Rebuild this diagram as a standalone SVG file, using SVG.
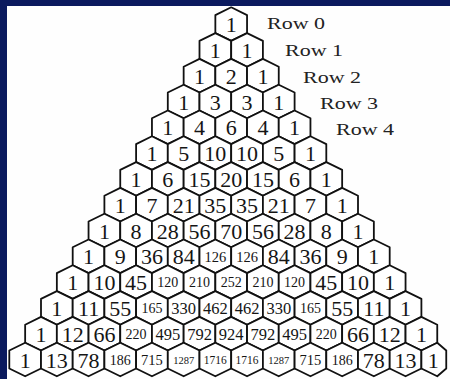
<svg xmlns="http://www.w3.org/2000/svg" width="450" height="379" viewBox="0 0 450 379">
<style>
.hx{fill:#fff;stroke:#111;stroke-width:1.8;stroke-linejoin:round}
text{font-family:"Liberation Serif","Times New Roman",serif;fill:#151515;text-anchor:middle}
.a{font-size:22px}.b{font-size:16.5px}.c{font-size:14px}.d{font-size:14.5px}.e{font-size:10.5px}.f{font-size:11.5px}
.lbl{font-family:"Liberation Serif",serif;font-size:16.5px;text-anchor:start;fill:#222}
</style>
<defs><polygon id="h" class="hx" points="0,-16.8 15.85,-9 15.85,9 0,16.8 -15.85,9 -15.85,-9"/></defs>
<rect width="450" height="379" fill="#0b1a5e"/>
<rect x="7" y="6" width="443" height="373" fill="#fefefe"/>
<g id="labels">
<text class="lbl" x="267" y="28.5" textLength="58" lengthAdjust="spacingAndGlyphs">Row 0</text>
<text class="lbl" x="285" y="56" textLength="58" lengthAdjust="spacingAndGlyphs">Row 1</text>
<text class="lbl" x="303" y="82.5" textLength="58" lengthAdjust="spacingAndGlyphs">Row 2</text>
<text class="lbl" x="320" y="108.5" textLength="58" lengthAdjust="spacingAndGlyphs">Row 3</text>
<text class="lbl" x="336" y="135" textLength="58" lengthAdjust="spacingAndGlyphs">Row 4</text>
</g>
<g id="connectors"/>
<g id="r0">
<g id="r0c0" transform="translate(231.2,24.1)"><use href="#h"/><text class="a" y="8">1</text></g>
</g>
<g id="r1">
<g id="r1c0" transform="translate(215.35,49.9)"><use href="#h"/><text class="a" y="8">1</text></g>
<g id="r1c1" transform="translate(247.05,49.9)"><use href="#h"/><text class="a" y="8">1</text></g>
</g>
<g id="r2">
<g id="r2c0" transform="translate(199.5,75.7)"><use href="#h"/><text class="a" y="8">1</text></g>
<g id="r2c1" transform="translate(231.2,75.7)"><use href="#h"/><text class="a" y="8">2</text></g>
<g id="r2c2" transform="translate(262.9,75.7)"><use href="#h"/><text class="a" y="8">1</text></g>
</g>
<g id="r3">
<g id="r3c0" transform="translate(183.65,101.5)"><use href="#h"/><text class="a" y="8">1</text></g>
<g id="r3c1" transform="translate(215.35,101.5)"><use href="#h"/><text class="a" y="8">3</text></g>
<g id="r3c2" transform="translate(247.05,101.5)"><use href="#h"/><text class="a" y="8">3</text></g>
<g id="r3c3" transform="translate(278.75,101.5)"><use href="#h"/><text class="a" y="8">1</text></g>
</g>
<g id="r4">
<g id="r4c0" transform="translate(167.8,127.3)"><use href="#h"/><text class="a" y="8">1</text></g>
<g id="r4c1" transform="translate(199.5,127.3)"><use href="#h"/><text class="a" y="8">4</text></g>
<g id="r4c2" transform="translate(231.2,127.3)"><use href="#h"/><text class="a" y="8">6</text></g>
<g id="r4c3" transform="translate(262.9,127.3)"><use href="#h"/><text class="a" y="8">4</text></g>
<g id="r4c4" transform="translate(294.6,127.3)"><use href="#h"/><text class="a" y="8">1</text></g>
</g>
<g id="r5">
<g id="r5c0" transform="translate(151.95,153.1)"><use href="#h"/><text class="a" y="8">1</text></g>
<g id="r5c1" transform="translate(183.65,153.1)"><use href="#h"/><text class="a" y="8">5</text></g>
<g id="r5c2" transform="translate(215.35,153.1)"><use href="#h"/><text class="a" y="8">10</text></g>
<g id="r5c3" transform="translate(247.05,153.1)"><use href="#h"/><text class="a" y="8">10</text></g>
<g id="r5c4" transform="translate(278.75,153.1)"><use href="#h"/><text class="a" y="8">5</text></g>
<g id="r5c5" transform="translate(310.45,153.1)"><use href="#h"/><text class="a" y="8">1</text></g>
</g>
<g id="r6">
<g id="r6c0" transform="translate(136.1,178.9)"><use href="#h"/><text class="a" y="8">1</text></g>
<g id="r6c1" transform="translate(167.8,178.9)"><use href="#h"/><text class="a" y="8">6</text></g>
<g id="r6c2" transform="translate(199.5,178.9)"><use href="#h"/><text class="a" y="8">15</text></g>
<g id="r6c3" transform="translate(231.2,178.9)"><use href="#h"/><text class="a" y="8">20</text></g>
<g id="r6c4" transform="translate(262.9,178.9)"><use href="#h"/><text class="a" y="8">15</text></g>
<g id="r6c5" transform="translate(294.6,178.9)"><use href="#h"/><text class="a" y="8">6</text></g>
<g id="r6c6" transform="translate(326.3,178.9)"><use href="#h"/><text class="a" y="8">1</text></g>
</g>
<g id="r7">
<g id="r7c0" transform="translate(120.25,204.7)"><use href="#h"/><text class="a" y="8">1</text></g>
<g id="r7c1" transform="translate(151.95,204.7)"><use href="#h"/><text class="a" y="8">7</text></g>
<g id="r7c2" transform="translate(183.65,204.7)"><use href="#h"/><text class="a" y="8">21</text></g>
<g id="r7c3" transform="translate(215.35,204.7)"><use href="#h"/><text class="a" y="8">35</text></g>
<g id="r7c4" transform="translate(247.05,204.7)"><use href="#h"/><text class="a" y="8">35</text></g>
<g id="r7c5" transform="translate(278.75,204.7)"><use href="#h"/><text class="a" y="8">21</text></g>
<g id="r7c6" transform="translate(310.45,204.7)"><use href="#h"/><text class="a" y="8">7</text></g>
<g id="r7c7" transform="translate(342.15,204.7)"><use href="#h"/><text class="a" y="8">1</text></g>
</g>
<g id="r8">
<g id="r8c0" transform="translate(104.4,230.5)"><use href="#h"/><text class="a" y="8">1</text></g>
<g id="r8c1" transform="translate(136.1,230.5)"><use href="#h"/><text class="a" y="8">8</text></g>
<g id="r8c2" transform="translate(167.8,230.5)"><use href="#h"/><text class="a" y="8">28</text></g>
<g id="r8c3" transform="translate(199.5,230.5)"><use href="#h"/><text class="a" y="8">56</text></g>
<g id="r8c4" transform="translate(231.2,230.5)"><use href="#h"/><text class="a" y="8">70</text></g>
<g id="r8c5" transform="translate(262.9,230.5)"><use href="#h"/><text class="a" y="8">56</text></g>
<g id="r8c6" transform="translate(294.6,230.5)"><use href="#h"/><text class="a" y="8">28</text></g>
<g id="r8c7" transform="translate(326.3,230.5)"><use href="#h"/><text class="a" y="8">8</text></g>
<g id="r8c8" transform="translate(358,230.5)"><use href="#h"/><text class="a" y="8">1</text></g>
</g>
<g id="r9">
<g id="r9c0" transform="translate(88.55,256.3)"><use href="#h"/><text class="a" y="8">1</text></g>
<g id="r9c1" transform="translate(120.25,256.3)"><use href="#h"/><text class="a" y="8">9</text></g>
<g id="r9c2" transform="translate(151.95,256.3)"><use href="#h"/><text class="a" y="8">36</text></g>
<g id="r9c3" transform="translate(183.65,256.3)"><use href="#h"/><text class="a" y="8">84</text></g>
<g id="r9c4" transform="translate(215.35,256.3)"><use href="#h"/><text class="d" y="5.5">126</text></g>
<g id="r9c5" transform="translate(247.05,256.3)"><use href="#h"/><text class="d" y="5.5">126</text></g>
<g id="r9c6" transform="translate(278.75,256.3)"><use href="#h"/><text class="a" y="8">84</text></g>
<g id="r9c7" transform="translate(310.45,256.3)"><use href="#h"/><text class="a" y="8">36</text></g>
<g id="r9c8" transform="translate(342.15,256.3)"><use href="#h"/><text class="a" y="8">9</text></g>
<g id="r9c9" transform="translate(373.85,256.3)"><use href="#h"/><text class="a" y="8">1</text></g>
</g>
<g id="r10">
<g id="r10c0" transform="translate(72.7,282.1)"><use href="#h"/><text class="a" y="8">1</text></g>
<g id="r10c1" transform="translate(104.4,282.1)"><use href="#h"/><text class="a" y="8">10</text></g>
<g id="r10c2" transform="translate(136.1,282.1)"><use href="#h"/><text class="a" y="8">45</text></g>
<g id="r10c3" transform="translate(167.8,282.1)"><use href="#h"/><text class="c" y="5">120</text></g>
<g id="r10c4" transform="translate(199.5,282.1)"><use href="#h"/><text class="c" y="5">210</text></g>
<g id="r10c5" transform="translate(231.2,282.1)"><use href="#h"/><text class="c" y="5">252</text></g>
<g id="r10c6" transform="translate(262.9,282.1)"><use href="#h"/><text class="c" y="5">210</text></g>
<g id="r10c7" transform="translate(294.6,282.1)"><use href="#h"/><text class="c" y="5">120</text></g>
<g id="r10c8" transform="translate(326.3,282.1)"><use href="#h"/><text class="a" y="8">45</text></g>
<g id="r10c9" transform="translate(358,282.1)"><use href="#h"/><text class="a" y="8">10</text></g>
<g id="r10c10" transform="translate(389.7,282.1)"><use href="#h"/><text class="a" y="8">1</text></g>
</g>
<g id="r11">
<g id="r11c0" transform="translate(56.85,307.9)"><use href="#h"/><text class="a" y="8">1</text></g>
<g id="r11c1" transform="translate(88.55,307.9)"><use href="#h"/><text class="a" y="8">11</text></g>
<g id="r11c2" transform="translate(120.25,307.9)"><use href="#h"/><text class="a" y="8">55</text></g>
<g id="r11c3" transform="translate(151.95,307.9)"><use href="#h"/><text class="c" y="5">165</text></g>
<g id="r11c4" transform="translate(183.65,307.9)"><use href="#h"/><text class="b" y="6">330</text></g>
<g id="r11c5" transform="translate(215.35,307.9)"><use href="#h"/><text class="b" y="6">462</text></g>
<g id="r11c6" transform="translate(247.05,307.9)"><use href="#h"/><text class="b" y="6">462</text></g>
<g id="r11c7" transform="translate(278.75,307.9)"><use href="#h"/><text class="b" y="6">330</text></g>
<g id="r11c8" transform="translate(310.45,307.9)"><use href="#h"/><text class="c" y="5">165</text></g>
<g id="r11c9" transform="translate(342.15,307.9)"><use href="#h"/><text class="a" y="8">55</text></g>
<g id="r11c10" transform="translate(373.85,307.9)"><use href="#h"/><text class="a" y="8">11</text></g>
<g id="r11c11" transform="translate(405.55,307.9)"><use href="#h"/><text class="a" y="8">1</text></g>
</g>
<g id="r12">
<g id="r12c0" transform="translate(41,333.7)"><use href="#h"/><text class="a" y="8">1</text></g>
<g id="r12c1" transform="translate(72.7,333.7)"><use href="#h"/><text class="a" y="8">12</text></g>
<g id="r12c2" transform="translate(104.4,333.7)"><use href="#h"/><text class="a" y="8">66</text></g>
<g id="r12c3" transform="translate(136.1,333.7)"><use href="#h"/><text class="c" y="5">220</text></g>
<g id="r12c4" transform="translate(167.8,333.7)"><use href="#h"/><text class="b" y="6">495</text></g>
<g id="r12c5" transform="translate(199.5,333.7)"><use href="#h"/><text class="b" y="6">792</text></g>
<g id="r12c6" transform="translate(231.2,333.7)"><use href="#h"/><text class="b" y="6">924</text></g>
<g id="r12c7" transform="translate(262.9,333.7)"><use href="#h"/><text class="b" y="6">792</text></g>
<g id="r12c8" transform="translate(294.6,333.7)"><use href="#h"/><text class="b" y="6">495</text></g>
<g id="r12c9" transform="translate(326.3,333.7)"><use href="#h"/><text class="c" y="5">220</text></g>
<g id="r12c10" transform="translate(358,333.7)"><use href="#h"/><text class="a" y="8">66</text></g>
<g id="r12c11" transform="translate(389.7,333.7)"><use href="#h"/><text class="a" y="8">12</text></g>
<g id="r12c12" transform="translate(421.4,333.7)"><use href="#h"/><text class="a" y="8">1</text></g>
</g>
<g id="r13">
<g id="r13c0" transform="translate(25.15,359.5)"><use href="#h"/><text class="a" y="8">1</text></g>
<g id="r13c1" transform="translate(56.85,359.5)"><use href="#h"/><text class="a" y="8">13</text></g>
<g id="r13c2" transform="translate(88.55,359.5)"><use href="#h"/><text class="a" y="8">78</text></g>
<g id="r13c3" transform="translate(120.25,359.5)"><use href="#h"/><text class="c" y="5">186</text></g>
<g id="r13c4" transform="translate(151.95,359.5)"><use href="#h"/><text class="d" y="5.5">715</text></g>
<g id="r13c5" transform="translate(183.65,359.5)"><use href="#h"/><text class="e" y="4.5">1287</text></g>
<g id="r13c6" transform="translate(215.35,359.5)"><use href="#h"/><text class="f" y="4.5">1716</text></g>
<g id="r13c7" transform="translate(247.05,359.5)"><use href="#h"/><text class="f" y="4.5">1716</text></g>
<g id="r13c8" transform="translate(278.75,359.5)"><use href="#h"/><text class="e" y="4.5">1287</text></g>
<g id="r13c9" transform="translate(310.45,359.5)"><use href="#h"/><text class="d" y="5.5">715</text></g>
<g id="r13c10" transform="translate(342.15,359.5)"><use href="#h"/><text class="c" y="5">186</text></g>
<g id="r13c11" transform="translate(373.85,359.5)"><use href="#h"/><text class="a" y="8">78</text></g>
<g id="r13c12" transform="translate(405.55,359.5)"><use href="#h"/><text class="a" y="8">13</text></g>
<g id="r13c13" transform="translate(437.25,359.5)"><polygon class="hx" points="0,-16.8 9,-9 9,9 0,16.8 -15.85,9 -15.85,-9"/><text class="a" x="-4" y="8">1</text></g>
</g>
</svg>
